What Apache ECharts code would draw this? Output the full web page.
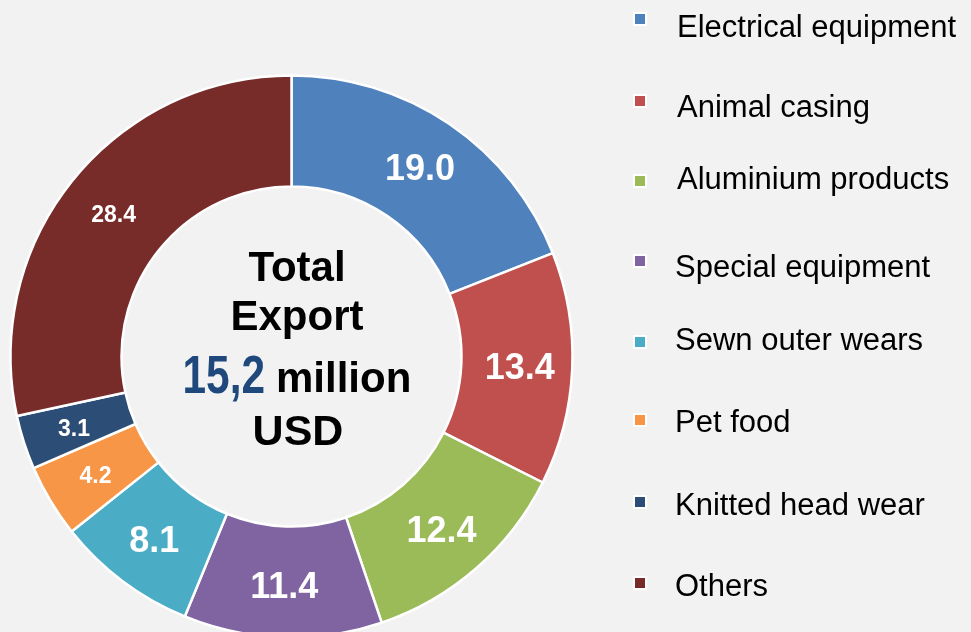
<!DOCTYPE html>
<html>
<head>
<meta charset="utf-8">
<script src="https://cdn.jsdelivr.net/npm/echarts@6/dist/echarts.min.js"></script>
<style>
  html, body { margin: 0; padding: 0; background: #F2F2F2; }
  #chart { width: 971px; height: 632px; }
</style>
</head>
<body>
<div id="chart"></div>
<script>
// Export structure by product group (share of total, %)
const categories = [
  'Electrical equipment',
  'Animal casing',
  'Aluminium products',
  'Special equipment',
  'Sewn outer wears',
  'Pet food',
  'Knitted head wear',
  'Others'
];
const shares = [19.0, 13.4, 12.4, 11.4, 8.1, 4.2, 3.1, 28.4];
const colors = ['#4F81BD', '#C0504D', '#9BBB59', '#8064A2', '#4BACC6', '#F79646', '#2C4D75', '#772C2A'];
const totalText = '15,2';
// slices whose value labels use the smaller font
const smallLabelCats = ['Pet food', 'Knitted head wear', 'Others'];

const FONT = "'Liberation Sans', Arial, sans-serif";

// legend layout: icon centre y, text centre y, text left x
const legendIconY = [18, 100, 180, 260, 341, 419, 501, 582];
const legendTextY = [28.5, 108, 180, 268.5, 341.5, 423.5, 506.5, 587.5];
const legendTextX = [677, 677, 677, 675, 675, 675, 675, 675];
const LEGEND_FONT = 31;
const ICON = 12;
const ICON_LEFT = 633;

// colour keys (icons only)
const iconLegends = categories.map((name, i) => ({
  data: [name],
  left: ICON_LEFT,
  top: legendIconY[i] - ICON / 2,
  padding: 0,
  itemWidth: ICON,
  itemHeight: ICON,
  icon: 'rect',
  selectedMode: false,
  itemStyle: { borderColor: '#ffffff', borderWidth: 2 },
  formatter: () => '',
  textStyle: { fontSize: 1, lineHeight: 1 }
}));

// category names
const textLegends = categories.map((name, i) => ({
  data: [name],
  left: legendTextX[i] - 5,
  top: legendTextY[i] - LEGEND_FONT / 2,
  padding: 0,
  itemWidth: 0,
  itemHeight: 0,
  icon: 'rect',
  selectedMode: false,
  itemStyle: { opacity: 0, borderWidth: 0 },
  textStyle: {
    fontFamily: FONT,
    fontSize: LEGEND_FONT,
    lineHeight: LEGEND_FONT,
    color: '#000000'
  }
}));

const seriesData = categories.map((name, i) => ({
  name: name,
  value: shares[i],
  itemStyle: { color: colors[i] },
  label: { fontSize: smallLabelCats.includes(name) ? 23 : 36 }
}));

const chart = echarts.init(document.getElementById('chart'), null, { renderer: 'canvas' });
chart.setOption({
  backgroundColor: '#F2F2F2',
  animation: false,
  legend: iconLegends.concat(textLegends),
  series: [{
    type: 'pie',
    center: [291.5, 356.5],
    radius: [170, 281],
    startAngle: 90,
    clockwise: true,
    avoidLabelOverlap: false,
    emphasis: { disabled: true },
    itemStyle: { borderColor: '#ffffff', borderWidth: 2.5 },
    label: {
      show: true,
      position: 'inside',
      offset: [0, 3],
      color: '#ffffff',
      fontFamily: FONT,
      fontWeight: 'bold',
      formatter: p => p.value.toFixed(1)
    },
    labelLine: { show: false },
    data: seriesData
  }],
  graphic: [
    {
      type: 'text', x: 297, y: 269,
      style: { text: 'Total', font: 'bold 42px ' + FONT, fill: '#000', textAlign: 'center', textVerticalAlign: 'middle' }
    },
    {
      type: 'text', x: 297, y: 318,
      style: { text: 'Export', font: 'bold 42px ' + FONT, fill: '#000', textAlign: 'center', textVerticalAlign: 'middle' }
    },
    {
      type: 'text', x: 265, y: 378, scaleX: 0.8,
      style: { text: totalText, font: 'bold 53px ' + FONT, fill: '#1F497D', textAlign: 'right', textVerticalAlign: 'middle' }
    },
    {
      type: 'text', x: 276, y: 380,
      style: { text: 'million', font: 'bold 42px ' + FONT, fill: '#000', textAlign: 'left', textVerticalAlign: 'middle' }
    },
    {
      type: 'text', x: 298, y: 433,
      style: { text: 'USD', font: 'bold 43px ' + FONT, fill: '#000', textAlign: 'center', textVerticalAlign: 'middle' }
    }
  ]
});
</script>
</body>
</html>
